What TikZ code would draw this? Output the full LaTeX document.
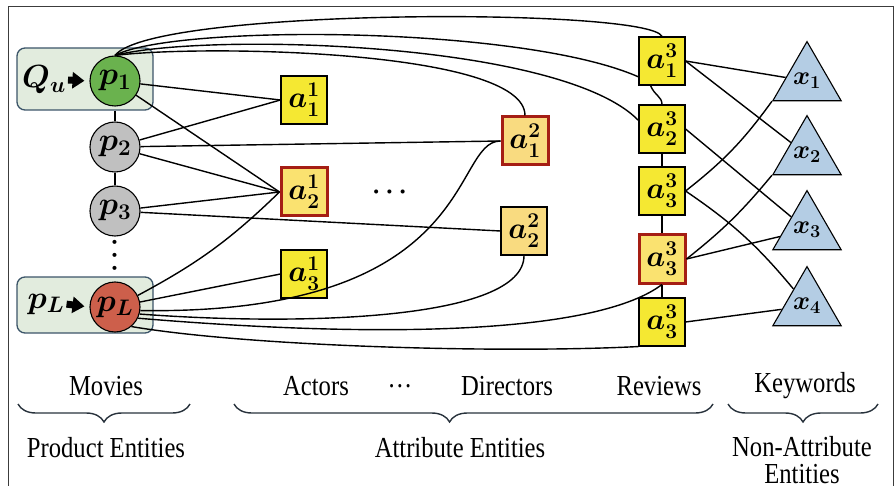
\documentclass[tikz,border=0pt]{standalone}
\usepackage{fix-cm}
\usepackage{amsmath}
\usepackage{fontspec}
\newfontfamily\labelfont[FakeStretch=0.85]{Liberation Serif}
\usepackage{tikz}
\usetikzlibrary{shapes.geometric, arrows.meta, decorations.pathreplacing}

\definecolor{prodgreen}{RGB}{106,178,78}
\definecolor{prodgrey}{RGB}{192,192,192}
\definecolor{prodred}{RGB}{205,95,75}
\definecolor{groupgreen}{RGB}{226,236,222}
\definecolor{groupblue}{RGB}{60,85,105}
\definecolor{attryellow}{RGB}{245,232,50}
\definecolor{attrpale}{RGB}{250,226,112}
\definecolor{attrorange}{RGB}{249,219,128}
\definecolor{pickred}{RGB}{165,30,20}
\definecolor{kwblue}{RGB}{180,205,228}
\definecolor{framegrey}{RGB}{60,60,60}
\definecolor{bracegrey}{RGB}{40,50,60}

\tikzset{
  prod/.style={circle, draw, line width=1.1pt, minimum size=50pt, inner sep=0pt,
    font=\fontsize{32}{34}\selectfont\boldmath},
  attr/.style={rectangle, draw, line width=1.1pt, fill=attryellow, minimum width=46pt,
    minimum height=48pt, inner sep=0pt, font=\fontsize{30}{32}\selectfont\boldmath},
  attrpick/.style={attr, draw=pickred, line width=3pt, fill=attrpale},
  kw/.style={regular polygon, regular polygon sides=3, draw, line width=1.1pt, fill=kwblue,
    minimum size=66pt, inner sep=0pt, font=\fontsize{26}{28}\selectfont\boldmath},
  groupbox/.style={draw=groupblue, fill=groupgreen, rounded corners=8pt, line width=1.3pt},
  link/.style={line width=1.4pt},
  blockarr/.style={line width=7pt, shorten >=5pt, shorten <=1pt,
    -{Triangle[length=12pt,width=16pt]}},
  cat/.style={font=\labelfont\fontsize{29}{32}\selectfont, inner sep=1pt},
  brace/.style={decorate, decoration={brace, mirror, amplitude=18pt}, line width=1.4pt,
    draw=bracegrey},
}

\begin{document}
\begin{tikzpicture}[x=1pt, y=-1pt]
\useasboundingbox (0,0) rectangle (896,486);
\draw[framegrey, line width=1pt] (8,486) -- (8,7) -- (893,7) -- (893,486);

\node[groupbox, minimum width=136pt, minimum height=62pt] (qgroup) at (85,79) {};
\node[groupbox, minimum width=136pt, minimum height=56pt] (lgroup) at (85,305) {};

\node[prod, fill=prodgreen] (p1) at (115,81) {$p_1$};
\node[prod, fill=prodgrey] (p2) at (115,147) {$p_2$};
\node[prod, fill=prodgrey] (p3) at (115,211) {$p_3$};
\node[rotate=90, font=\fontsize{26}{28}\selectfont\boldmath] (vdots) at (115,253) {$\cdots$};
\node[prod, fill=prodred] (pL) at (115,307) {$p_L$};
\node[font=\fontsize{32}{34}\selectfont\boldmath, inner sep=1pt] (qlab) at (44,80) {$Q_u$};
\node[font=\fontsize{32}{34}\selectfont\boldmath, inner sep=1pt] (pllab) at (46,304) {$p_L$};

\node[attr] (a11) at (304,100) {$a^1_1$};
\node[attrpick] (a12) at (304,192) {$a^1_2$};
\node[attr] (a13) at (304,274) {$a^1_3$};
\node[font=\fontsize{26}{28}\selectfont\boldmath] (midots) at (392,192) {$\cdots$};
\node[attrpick, fill=attrorange] (a21) at (525,141) {$a^2_1$};
\node[attr, fill=attrorange] (a22) at (524,231) {$a^2_2$};

\node[attr] (a31) at (662,61) {$a^3_1$};
\node[attr] (a32) at (662,129) {$a^3_2$};
\node[attr] (a33) at (662,191) {$a^3_3$};
\node[attrpick] (a34) at (662,259) {$a^3_3$};
\node[attr] (a35) at (662,322) {$a^3_3$};

\node[kw] (x1) at (807,81) {$x_1$};
\node[kw] (x2) at (807,155) {$x_2$};
\node[kw] (x3) at (807,230) {$x_3$};
\node[kw] (x4) at (807,306) {$x_4$};

\draw[blockarr] (qlab.east) -- (p1.west);
\draw[blockarr] (pllab.east) -- (pL.west);
\draw[link] (qgroup.south -| p1) -- (p2);
\draw[link] (p2) -- (p3);

\draw[link] (p1) -- (a11.west);
\draw[link] (p1) -- (a12.west);
\draw[link] (p2) -- (a11.west);
\draw[link] (p2) -- (a12.west);
\draw[link] (p2) -- (a21.west);
\draw[link] (p3) -- (a12.west);
\draw[link] (p3) -- (a22.west);
\draw[link] (pL) to[bend right=8] (a12.west);
\draw[link] (pL) -- (a13.west);

\draw[link] (p1.north) .. controls +(37,-48) and +(-12,-29) .. (a31.north);
\draw[link] (p1.north) .. controls +(57,-31) and +(-118,-52) .. (a31.214);
\draw[link] (p1.north) .. controls +(87,-23) and +(-78,-80) .. (a32.160);
\draw[link] (p1.north) .. controls +(87,-11) and +(0,-66) .. (a21.north);

\draw[link] (pL.-8) .. controls +(340,5) and +(-50,0) .. (a21.west);
\draw[link] (pL.-16) .. controls +(160,12) and +(0,65) .. (a22.south);
\draw[link] (pL.-26) .. controls +(262,22) and +(-62,47) .. (a34.south);
\draw[link] (pL.-50) .. controls +(119,20) and +(-138,7) .. (a35.south west);

\draw[link] (a31.-115) .. controls +(4,10) and +(0,-8) .. (a32.north);
\draw[link] (a32) -- (a33);
\draw[link] (a33) -- (a34);
\draw[link] (a34) -- (a35);

\draw[link] (a31.east) -- (x1);
\draw[link] (a31.east) -- (x2);
\draw[link] (a32.east) -- (x3);
\draw[link] (a33.east) to[bend right=8] (x1.corner 2);
\draw[link] (a33.east) to[bend left=8] (x4);
\draw[link] (a34.east) to[bend right=6] (x2.corner 2);
\draw[link] (a34.east) -- (x3);
\draw[link] (a35.east) -- (x4);

\node[cat] (movies) at (106,386) {Movies};
\node[cat] (actors) at (316,386) {Actors};
\node[cat] (catdots) at (400,386) {\dots};
\node[cat] (directors) at (507,386) {Directors};
\node[cat] (reviews) at (659,386) {Reviews};
\node[cat] (keywords) at (805,386) {Keywords};

\draw[brace] (18,404) -- (190,404);
\draw[brace, decoration={aspect=0.45}] (234,404) -- (713,404);
\draw[brace] (728,404) -- (878,404);

\node[cat] (prodent) at (106,448) {Product Entities};
\node[cat] (attrent) at (460,448) {Attribute Entities};
\node[cat, align=center] (nonattr) at (802,460) {Non-Attribute\\[-5pt]Entities};
\end{tikzpicture}
\end{document}
